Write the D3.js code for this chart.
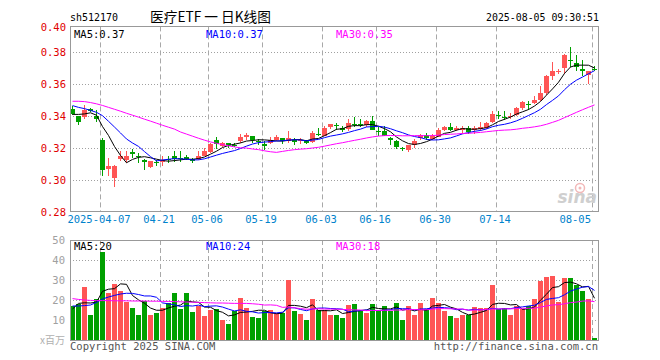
<!DOCTYPE html>
<html><head><meta charset="utf-8">
<script src="https://cdn.jsdelivr.net/npm/d3@7"></script>
<style>body{margin:0;background:#fff}svg{display:block}</style>
</head><body><svg id="c" width="660" height="360"></svg>
<script>
const dates = ["2025-03-28","2025-03-31","2025-04-01","2025-04-02","2025-04-03","2025-04-07","2025-04-08","2025-04-09","2025-04-10","2025-04-11","2025-04-14","2025-04-15","2025-04-16","2025-04-17","2025-04-18","2025-04-21","2025-04-22","2025-04-23","2025-04-24","2025-04-25","2025-04-28","2025-04-29","2025-04-30","2025-05-06","2025-05-07","2025-05-08","2025-05-09","2025-05-12","2025-05-13","2025-05-14","2025-05-15","2025-05-16","2025-05-19","2025-05-20","2025-05-21","2025-05-22","2025-05-23","2025-05-26","2025-05-27","2025-05-28","2025-05-29","2025-05-30","2025-06-03","2025-06-04","2025-06-05","2025-06-06","2025-06-09","2025-06-10","2025-06-11","2025-06-12","2025-06-13","2025-06-16","2025-06-17","2025-06-18","2025-06-19","2025-06-20","2025-06-23","2025-06-24","2025-06-25","2025-06-26","2025-06-27","2025-06-30","2025-07-01","2025-07-02","2025-07-03","2025-07-04","2025-07-07","2025-07-08","2025-07-09","2025-07-10","2025-07-11","2025-07-14","2025-07-15","2025-07-16","2025-07-17","2025-07-18","2025-07-21","2025-07-22","2025-07-23","2025-07-24","2025-07-25","2025-07-28","2025-07-29","2025-07-30","2025-07-31","2025-08-01","2025-08-04","2025-08-05"];

const open = [.3446,.3398,.3394,.3444,.3398,.3248,.3069,.3010,.3133,.3127,
 .3173,.3150,.3127,.3081,.3112,.3110,.3129,.3152,.3140,.3144,
 .3131,.3131,.3152,.3173,.3252,.3210,.3231,.3221,.3246,.3269,
 .3277,.3242,.3227,.3231,.3248,.3263,.3246,.3252,.3242,.3248,
 .3237,.3285,.3275,.3333,.3346,.3327,.3317,.3352,.3348,.3346,
 .3367,.3308,.3304,.3263,.3246,.3198,.3185,.3221,.3262,.3281,
 .3256,.3269,.3310,.3331,.3315,.3315,.3325,.3310,.3319,.3325,
 .3360,.3406,.3396,.3394,.3408,.3450,.3477,.3481,.3502,.3544,
 .3648,.3677,.3700,.3750,.3731,.3696,.3654,.3696];
const high = [.3460,.3400,.3466,.3452,.3435,.3263,.3137,.3096,.3179,.3179,
 .3194,.3169,.3131,.3120,.3123,.3148,.3148,.3179,.3179,.3156,
 .3137,.3179,.3200,.3231,.3267,.3237,.3231,.3231,.3285,.3294,
 .3277,.3256,.3242,.3267,.3283,.3263,.3306,.3263,.3263,.3252,
 .3306,.3327,.3335,.3352,.3356,.3335,.3383,.3392,.3383,.3377,
 .3398,.3330,.3338,.3267,.3248,.3208,.3217,.3256,.3288,.3292,
 .3287,.3325,.3340,.3356,.3335,.3335,.3335,.3335,.3365,.3363,
 .3433,.3431,.3431,.3419,.3454,.3492,.3492,.3527,.3585,.3658,
 .3735,.3694,.3788,.3829,.3781,.3752,.3679,.3710];
const low = [.3408,.3342,.3381,.3425,.3363,.3027,.3023,.2955,.3120,.3108,
 .3137,.3106,.3064,.3073,.3090,.3085,.3108,.3110,.3110,.3127,
 .3106,.3127,.3148,.3167,.3194,.3204,.3200,.3208,.3231,.3248,
 .3231,.3219,.3190,.3225,.3242,.3225,.3231,.3221,.3225,.3225,
 .3231,.3273,.3275,.3321,.3313,.3300,.3308,.3329,.3331,.3333,
 .3310,.3275,.3273,.3221,.3196,.3183,.3173,.3200,.3248,.3250,
 .3248,.3269,.3304,.3304,.3304,.3294,.3285,.3285,.3304,.3319,
 .3356,.3379,.3373,.3379,.3398,.3440,.3440,.3477,.3496,.3533,
 .3623,.3660,.3660,.3706,.3679,.3652,.3598,.3679];
const close = [.3415,.3363,.3435,.3431,.3381,.3060,.3085,.3090,.3152,.3152,
 .3165,.3148,.3112,.3116,.3110,.3123,.3127,.3131,.3138,.3133,
 .3117,.3152,.3179,.3227,.3225,.3231,.3217,.3219,.3267,.3283,
 .3248,.3240,.3215,.3252,.3267,.3242,.3263,.3238,.3252,.3231,
 .3296,.3281,.3325,.3348,.3335,.3313,.3356,.3348,.3346,.3367,
 .3315,.3304,.3273,.3248,.3204,.3196,.3217,.3246,.3279,.3260,
 .3273,.3315,.3331,.3310,.3327,.3325,.3298,.3325,.3331,.3356,
 .3415,.3402,.3392,.3402,.3450,.3485,.3473,.3502,.3544,.3648,
 .3679,.3681,.3779,.3744,.3706,.3679,.3679,.3692];
// volume, millions
const volume = [17,18,26.7,12.5,20.3,44.2,23.3,28,24.5,19.2,
 16.2,12.5,19.5,12.5,13.7,16.2,18.3,23.7,15.5,23.7,
 14.2,17,12,15,15.3,10,8,14.5,21.2,16.2,
 11.7,10.8,14.5,15,13.7,13.3,30,14.5,13,10,
 20.5,15,15,12.5,12.5,11.2,17.5,18,14.5,13.7,
 18,14.5,17,14.5,18.7,10,17,12.5,18.7,15.5,
 21.2,18.7,14.7,12,11.2,12.5,12.5,16.7,16.2,16,
 27.5,15.5,16.2,12.5,17,15.5,17,20.5,29.7,31.7,
 32.2,19.2,30.8,30.8,27.5,24.5,20.5,1];

// moving-average values before a full window is available
const ma5Lead = [.3410,.3410,.3413,.3420];
const ma10Lead = [.3465,.3454,.3446,.3435,.3423,.3402,.3367,.3331,.3294];
const ma30Lead = [.3492,.3492,.3490,.3484,.3476,.3466,.3454,.3442,.3430,.3417,
 .3405,.3393,.3380,.3368,.3355,.3342,.3330,.3318,.3300,.3287,
 .3274,.3261,.3249,.3238,.3229,.3221,.3214,.3207,.3201];
const volMa5Lead = [15.5,18.3,18.6,18.5];
const volMa10Lead = [17,17,17.2,17.5,18.8,20.5,21.5,22.3,23];
const volMa30Lead = [20.7,20.3,20.0,19.8,19.7,19.7,19.7,19.6,19.6,19.6,
 19.5,19.5,19.5,19.4,19.4,19.3,19.3,19.2,19.1,19.0,
 18.9,18.8,18.7,18.6,18.5,18.5,18.4,18.3,18.3];

const tickDates = ["2025-04-07","2025-04-21","2025-05-06","2025-05-19","2025-06-03","2025-06-16","2025-06-30","2025-07-14","2025-08-05"];
const tickLabels = ["2025-04-07","04-21","05-06","05-19","06-03","06-16","06-30","07-14","08-05"];
const priceTicks = [0.28,0.30,0.32,0.34,0.36,0.38,0.40];
const priceGrid = [0.30,0.32,0.34,0.36,0.38];
const volTicks = [10,20,30,40,50];
const volGrid = [10,20,30,40];
const priceLegend = [["MA5",0.37],["MA10",0.37],["MA30",0.35]];
const volLegend = [["MA5",20],["MA10",24],["MA30",18]];
const title = "医疗ETF 一 日K线图";
const code = "sh512170";
const stamp = "2025-08-05 09:30:51";

// ---------- drawing ----------
const svg = d3.select("#c");
const MONO = "'DejaVu Sans Mono', monospace";
const RED = "#ff5555", GREEN = "#00a000";
const maColors = ["#000000","#0000ff","#ff00ff"];
const L = 70, R = 598;
const x = d3.scaleBand().domain(dates).range([L, R]).padding(0);
const bw = 5;
const yP = d3.scaleLinear().domain([0.28, 0.396]).range([212, 26.4]).clamp(true);
const yV = d3.scaleLinear().domain([0, 50]).range([340, 240]);
const pTop = yP.range()[1], pBot = yP.range()[0];
const vTop = yV.range()[1], vBot = yV.range()[0];

function ma(vals, n, lead) {
  return vals.map((v, i) => i < n - 1 ? lead[i] : d3.mean(vals.slice(i - n + 1, i + 1)));
}
const pMA = [ma(close,5,ma5Lead), ma(close,10,ma10Lead), ma(close,30,ma30Lead)];
const vMA = [ma(volume,5,volMa5Lead), ma(volume,10,volMa10Lead), ma(volume,30,volMa30Lead)];

// header
svg.append("text").attr("x", 70).attr("y", 21).attr("font-family", MONO).attr("font-size", 11)
  .attr("textLength", 48).attr("lengthAdjust","spacingAndGlyphs").text(code);
svg.append("text").attr("x", 150).attr("y", 22).attr("font-family", "'Noto Sans CJK SC', sans-serif")
  .attr("font-size", 14).attr("textLength", 121).attr("lengthAdjust","spacingAndGlyphs").text(title);
svg.append("text").attr("x", 599).attr("y", 21).attr("text-anchor","end").attr("font-family", MONO)
  .attr("font-size", 11).attr("textLength", 113).attr("lengthAdjust","spacingAndGlyphs").text(stamp);

// grid
const grid = svg.append("g");
grid.selectAll(".hp").data(priceGrid).join("line")
  .attr("x1", L).attr("x2", R).attr("y1", d => Math.floor(yP(d)) + 0.5).attr("y2", d => Math.floor(yP(d)) + 0.5)
  .attr("stroke", "#a0a0a0").attr("stroke-dasharray", "1,2");
grid.selectAll(".hv").data(volGrid).join("line")
  .attr("x1", L).attr("x2", R).attr("y1", d => Math.floor(yV(d)) + 0.5).attr("y2", d => Math.floor(yV(d)) + 0.5)
  .attr("stroke", "#a0a0a0").attr("stroke-dasharray", "1,2");
[[pTop, pBot], [vTop, vBot]].forEach(([t, b]) => {
  grid.append("g").selectAll("line").data(tickDates).join("line")
    .attr("x1", d => x(d) + 0.5).attr("x2", d => x(d) + 0.5).attr("y1", t).attr("y2", b)
    .attr("stroke", "#a8a8a8").attr("stroke-dasharray", "5,3");
});

// sina watermark
const wm = svg.append("g");
wm.append("text").attr("x", 597).attr("y", 203).attr("text-anchor","end")
  .attr("font-family","'DejaVu Sans', sans-serif").attr("font-size", 17).attr("font-style","italic")
  .attr("font-weight","bold").attr("fill","#cfcfcf").text("sina");
wm.append("circle").attr("cx", 580).attr("cy", 188).attr("r", 4.5).attr("fill","none")
  .attr("stroke","#f2b8b8").attr("stroke-width", 1.5);
wm.append("circle").attr("cx", 580).attr("cy", 188).attr("r", 1.5).attr("fill","#f2b8b8");

// candles
const idx = d3.range(dates.length);
const col = i => close[i] >= open[i] ? RED : GREEN;
const cg = svg.append("g").attr("shape-rendering", "crispEdges");
cg.selectAll("line").data(idx).join("line")
  .attr("x1", i => x(dates[i]) + 2.5).attr("x2", i => x(dates[i]) + 2.5)
  .attr("y1", i => yP(high[i])).attr("y2", i => yP(low[i]))
  .attr("stroke", col);
cg.selectAll("rect").data(idx).join("rect")
  .attr("x", i => x(dates[i])).attr("width", bw)
  .attr("y", i => yP(Math.max(open[i], close[i])))
  .attr("height", i => Math.max(1, Math.abs(yP(open[i]) - yP(close[i]))))
  .attr("fill", col);

// volume bars
svg.append("g").attr("shape-rendering","crispEdges").selectAll("rect").data(idx).join("rect")
  .attr("x", i => x(dates[i])).attr("width", bw)
  .attr("y", i => yV(volume[i])).attr("height", i => yV(0) - yV(volume[i]))
  .attr("fill", col);

// MA lines
const lineP = d3.line().x((d, i) => x(dates[i]) + 2.5).y(d => yP(d));
const lineV = d3.line().x((d, i) => x(dates[i]) + 2.5).y(d => yV(d));
pMA.forEach((s, k) => svg.append("path").attr("d", lineP(s)).attr("fill","none").attr("stroke", maColors[k]).attr("stroke-width", 1));
vMA.forEach((s, k) => svg.append("path").attr("d", lineV(s)).attr("fill","none").attr("stroke", maColors[k]).attr("stroke-width", 1));

// frames
svg.append("rect").attr("x", L + 0.5).attr("y", Math.floor(pTop) + 0.5).attr("width", R - L).attr("height", Math.floor(pBot) - Math.floor(pTop) - 1)
  .attr("fill","none").attr("stroke","#999");
svg.append("rect").attr("x", L + 0.5).attr("y", vTop + 0.5).attr("width", R - L).attr("height", vBot - vTop)
  .attr("fill","none").attr("stroke","#999");

// axes
const ax = svg.append("g").attr("transform", `translate(66,0)`)
  .call(d3.axisLeft(yP).tickValues(priceTicks).tickFormat(d3.format(".2f")).tickSize(0).tickPadding(0));
ax.select(".domain").remove();
ax.selectAll("text").attr("font-family", MONO).attr("font-size", 10.5).attr("fill", "#e00000").attr("dy","0.35em");

const axv = svg.append("g").attr("transform", `translate(65,0)`)
  .call(d3.axisLeft(yV).tickValues(volTicks).tickSize(0).tickPadding(0));
axv.select(".domain").remove();
axv.selectAll("text").attr("font-family", MONO).attr("font-size", 10.5).attr("fill", "#a0a0a0").attr("dy","0.35em");
svg.append("text").attr("x", 65).attr("y", 344).attr("text-anchor","end")
  .attr("font-family","'Noto Sans CJK SC', sans-serif").attr("font-size", 10).attr("fill","#b0b0b0").text("x百万");

const axb = svg.append("g").attr("transform", `translate(${-x.bandwidth()/2 - 1},${pBot + 1})`)
  .call(d3.axisBottom(x).tickValues(tickDates).tickFormat((d, i) => tickLabels[i]).tickSize(0).tickPadding(3));
axb.select(".domain").remove();
axb.selectAll("text").attr("font-family", MONO).attr("font-size", 10.5).attr("fill", "#0082cc");
axb.selectAll(".tick").each(function(d) {
  const t = d3.select(this).select("text");
  const w = t.node().getComputedTextLength();
  if (x(d) - 1 + w / 2 > R) t.attr("text-anchor", "end").attr("x", 0);
});

// legends
const px = [74, 206, 336];
priceLegend.forEach(([n, v], k) => svg.append("text").attr("x", px[k]).attr("y", 37.5)
  .attr("font-family", MONO).attr("font-size", 10.5).attr("fill", maColors[k]).text(`${n}:${v.toFixed(2)}`));
volLegend.forEach(([n, v], k) => svg.append("text").attr("x", px[k]).attr("y", 249.5)
  .attr("font-family", MONO).attr("font-size", 10.5).attr("fill", maColors[k]).text(`${n}:${v}`));

// footer
svg.append("text").attr("x", 70).attr("y", 350).attr("font-family", MONO).attr("font-size", 10.5)
  .attr("fill", "#555").text("Copyright 2025 SINA.COM");
svg.append("text").attr("x", 598).attr("y", 350).attr("text-anchor","end").attr("font-family", MONO).attr("font-size", 10.5)
  .attr("fill", "#555").text("http://finance.sina.com.cn");
</script></body></html>
